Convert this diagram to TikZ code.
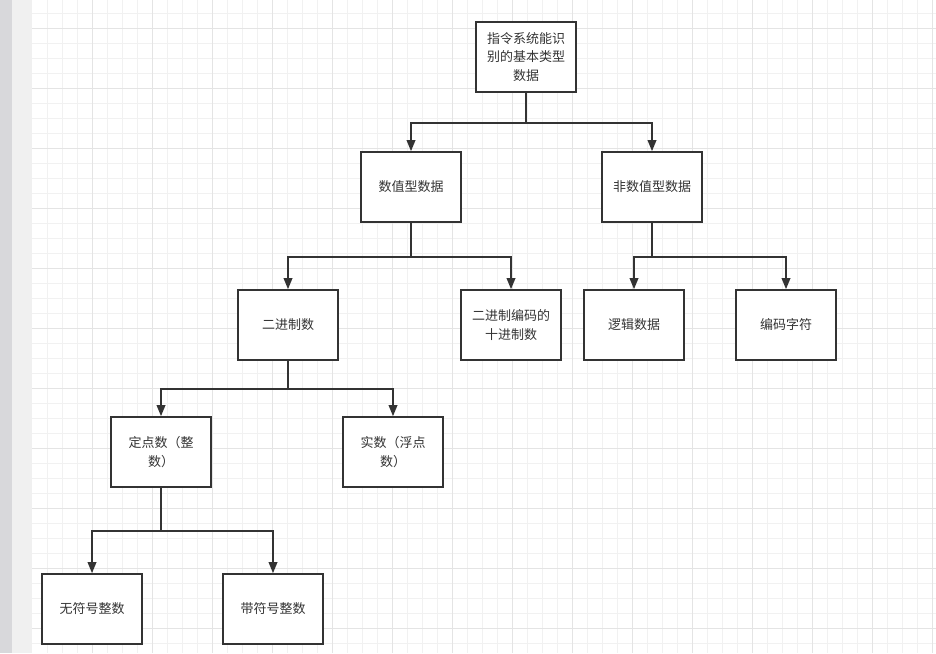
\documentclass[tikz,border=0pt]{standalone}
\usepackage{fontspec}
\setmainfont{Noto Sans CJK SC}
\usepackage{xcolor}
\usetikzlibrary{arrows.meta}

\definecolor{ink}{HTML}{333333}
\definecolor{gridminor}{HTML}{F1F1F1}
\definecolor{gridmajor}{HTML}{E4E4E4}
\definecolor{sidebar}{HTML}{D8D8DB}
\definecolor{sidepane}{HTML}{F0F0F0}

\begin{document}
\begin{tikzpicture}[x=1pt,y=-1pt,
    box/.style={draw=ink,line width=1.6pt,fill=white,minimum width=100pt,minimum height=70pt,
      inner sep=0pt,align=center,text=ink,font=\fontsize{13}{18.5}\selectfont},
    link/.style={draw=ink,line width=1.8pt,-{Triangle[width=8.5pt,length=11pt]}}]
    \useasboundingbox (0,0) rectangle (936,653);
    % canvas and grid
    \fill[sidebar] (0,0) rectangle (12,653);
    \fill[sidepane] (12,0) rectangle (32,653);
    \foreach \gx in {47,62,...,936} \draw[gridminor,line width=1pt] (\gx,0) -- (\gx,653);
    \foreach \gy in {13,28,...,653} \draw[gridminor,line width=1pt] (32,\gy) -- (936,\gy);
    \foreach \gx in {92,152,...,936} \draw[gridmajor,line width=1pt] (\gx,0) -- (\gx,653);
    \foreach \gy in {28,88,...,653} \draw[gridmajor,line width=1pt] (32,\gy) -- (936,\gy);

    % level 0 and 1
    \node[box] (root) at (526,57) {指令系统能识\\别的基本类型\\数据};
    \node[box] (num) at (411,187) {数值型数据};
    \node[box] (nonnum) at (652,187) {非数值型数据};
    % level 2
    \node[box] (bin) at (288,325) {二进制数};
    \node[box] (bcd) at (511,325) {二进制编码的\\十进制数};
    \node[box] (logic) at (634,325) {逻辑数据};
    \node[box] (code) at (786,325) {编码字符};
    % level 3 and 4
    \node[box] (fixed) at (161,452) {定点数（整\\数）};
    \node[box] (float) at (393,452) {实数（浮点\\数）};
    \node[box] (unsigned) at (92,609) {无符号整数};
    \node[box] (signed) at (273,609) {带符号整数};

    \draw[link] (root.south) -- ++(0,30) -| (num.north);
    \draw[link] (root.south) -- ++(0,30) -| (nonnum.north);
    \draw[link] (num.south) -- ++(0,34) -| (bin.north);
    \draw[link] (num.south) -- ++(0,34) -| (bcd.north);
    \draw[link] (nonnum.south) -- ++(0,34) -| (logic.north);
    \draw[link] (nonnum.south) -- ++(0,34) -| (code.north);
    \draw[link] (bin.south) -- ++(0,28) -| (fixed.north);
    \draw[link] (bin.south) -- ++(0,28) -| (float.north);
    \draw[link] (fixed.south) -- ++(0,43) -| (unsigned.north);
    \draw[link] (fixed.south) -- ++(0,43) -| (signed.north);
\end{tikzpicture}
\end{document}
